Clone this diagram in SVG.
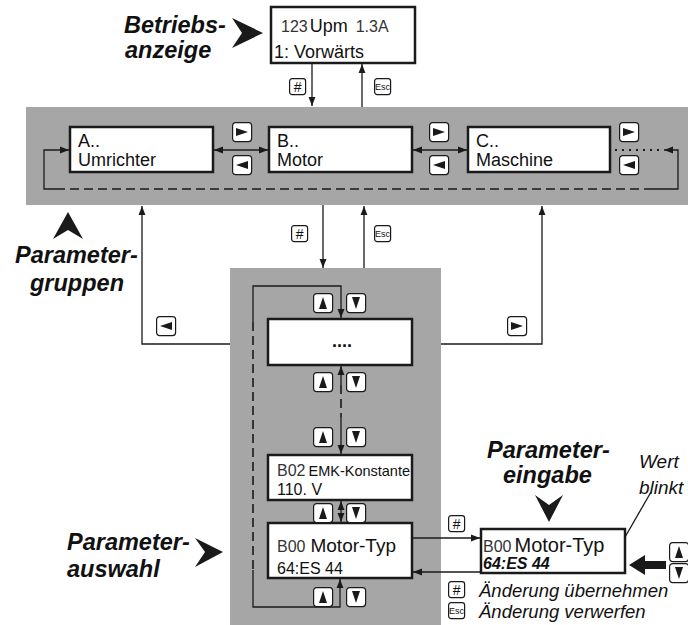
<svg xmlns="http://www.w3.org/2000/svg" width="688" height="625" viewBox="0 0 688 625">
<style>
.bg{fill:#a6a6a6}
.box{fill:#fff;stroke:#1a1a1a;stroke-width:2.5}
.key{fill:#fff;stroke:#1a1a1a;stroke-width:1.2}
.ln{fill:none;stroke:#1a1a1a;stroke-width:1.3}
.dash{fill:none;stroke:#1a1a1a;stroke-width:1.6;stroke-dasharray:9,5}
.dot{fill:none;stroke:#1a1a1a;stroke-width:1.8;stroke-dasharray:2,5}
.tri{fill:#1a1a1a}
.t{font-family:"Liberation Sans",Arial,sans-serif;fill:#111}
.bt{font-size:18px}
.lt{font-size:16px;fill:#333}
.big{font-family:"Liberation Sans",Arial,sans-serif;font-size:23.5px;font-weight:bold;font-style:italic;fill:#111}
.it{font-family:"Liberation Sans",Arial,sans-serif;font-style:italic;fill:#111}
.kt{font-family:"Liberation Sans",Arial,sans-serif;fill:#111;text-anchor:middle}
</style>
<defs>
<marker id="ah" viewBox="0 0 10 10" refX="10" refY="5" markerWidth="9" markerHeight="9" markerUnits="userSpaceOnUse" orient="auto-start-reverse"><path d="M0,1.2 L10,5 L0,8.8 z" fill="#1a1a1a"/></marker>
<g id="kR"><rect x="0.6" y="0.6" width="19" height="19" rx="3" class="key"/><polygon class="tri" points="4,6 16,10 4,14"/></g>
<g id="kL"><rect x="0.6" y="0.6" width="19" height="19" rx="3" class="key"/><polygon class="tri" points="16,6 4,10 16,14"/></g>
<g id="kU"><rect x="0.6" y="0.6" width="19" height="19" rx="3" class="key"/><polygon class="tri" points="10,4 14,16 6,16"/></g>
<g id="kD"><rect x="0.6" y="0.6" width="19" height="19" rx="3" class="key"/><polygon class="tri" points="6,4 14,4 10,16"/></g>
<g id="kH"><rect x="0.6" y="0.6" width="16" height="16" rx="2.5" class="key"/><text x="8.6" y="13.5" class="kt" font-size="14">#</text></g>
<g id="kE"><rect x="0.6" y="0.6" width="16" height="16" rx="2.5" class="key"/><text x="8.6" y="12" class="kt" font-size="9">Esc</text></g>
</defs>

<!-- backgrounds -->
<rect id="band-groups" class="bg" x="26" y="107" width="662" height="98"/>
<rect id="band-select" class="bg" x="230" y="268" width="211" height="357"/>

<!-- connectors -->
<g id="connectors">
  <line class="ln" x1="312" y1="63" x2="312" y2="106" marker-end="url(#ah)"/>
  <line class="ln" x1="362" y1="107" x2="362" y2="64" marker-end="url(#ah)"/>
  <line class="ln" x1="214" y1="150" x2="268" y2="150" marker-start="url(#ah)" marker-end="url(#ah)"/>
  <line class="ln" x1="413" y1="150" x2="467" y2="150" marker-start="url(#ah)" marker-end="url(#ah)"/>
  <line class="dot" x1="615" y1="150" x2="661" y2="150"/>
  <path class="ln" d="M653,189 L678,189 L678,150 L664,150" marker-end="url(#ah)"/>
  <line class="dash" x1="653" y1="189" x2="55" y2="189"/>
  <path class="ln" d="M56,189 L44,189 L44,150 L69,150" marker-end="url(#ah)"/>
  <line class="ln" x1="323" y1="205" x2="323" y2="268" marker-end="url(#ah)"/>
  <line class="ln" x1="364" y1="268" x2="364" y2="206" marker-end="url(#ah)"/>
  <path class="ln" d="M230,344 L142,344 L142,206" marker-end="url(#ah)"/>
  <path class="ln" d="M441,344 L542,344 L542,206" marker-end="url(#ah)"/>
  <path class="ln" d="M253,322 L253,286 L341,286 L341,318" marker-end="url(#ah)"/>
  <line class="dash" x1="253" y1="322" x2="253" y2="570"/>
  <path class="ln" d="M253,570 L253,607 L340,607 L340,579" marker-end="url(#ah)"/>
  <line class="ln" x1="341" y1="385" x2="341" y2="366" marker-end="url(#ah)"/>
  <line class="dash" x1="341" y1="385" x2="341" y2="417"/>
  <line class="ln" x1="341" y1="417" x2="341" y2="454" marker-end="url(#ah)"/>
  <line class="ln" x1="341" y1="501" x2="341" y2="522" marker-start="url(#ah)" marker-end="url(#ah)"/>
  <line class="ln" x1="413" y1="538" x2="480" y2="538" marker-end="url(#ah)"/>
  <line class="ln" x1="481" y1="572" x2="413" y2="572" marker-end="url(#ah)"/>
  <line class="ln" x1="651" y1="492" x2="617" y2="551" marker-end="url(#ah)"/>
  <polygon class="tri" points="629,565 645,555 645,561 666,561 666,569 645,569 645,575"/>
</g>

<!-- nodes -->
<g id="node-display">
  <rect class="box" x="271" y="7" width="144" height="56"/>
  <text class="t" x="281" y="32"><tspan class="lt">123</tspan><tspan class="bt" dx="2">Upm</tspan><tspan class="lt" dx="8">1.3A</tspan></text>
  <text class="t bt" x="274" y="58">1: Vorwärts</text>
</g>
<g id="node-A">
  <rect class="box" x="70" y="127" width="143" height="45"/>
  <text class="t bt" x="78" y="147">A..</text>
  <text class="t bt" x="78" y="166">Umrichter</text>
</g>
<g id="node-B">
  <rect class="box" x="269" y="127" width="143" height="45"/>
  <text class="t bt" x="277" y="147">B..</text>
  <text class="t bt" x="277" y="166">Motor</text>
</g>
<g id="node-C">
  <rect class="box" x="468" y="127" width="142" height="45"/>
  <text class="t bt" x="476" y="147">C..</text>
  <text class="t bt" x="476" y="166">Maschine</text>
</g>
<g id="node-dots">
  <rect class="box" x="268" y="319" width="144" height="46"/>
  <text class="t" x="342" y="347" font-size="18" font-weight="bold" text-anchor="middle">....</text>
</g>
<g id="node-B02">
  <rect class="box" x="268" y="455" width="144" height="45"/>
  <text class="t" x="277" y="476"><tspan font-size="16" fill="#333">B02</tspan><tspan font-size="14.5" dx="3">EMK-Konstante</tspan></text>
  <text class="t" x="277" y="495" font-size="16" fill="#333">110<tspan fill="#111">.</tspan> V</text>
</g>
<g id="node-B00">
  <rect class="box" x="268" y="523" width="144" height="55"/>
  <text class="t" x="277" y="552"><tspan font-size="16" fill="#333">B00</tspan><tspan font-size="19" dx="5">Motor-Typ</tspan></text>
  <text class="t" x="277" y="574" font-size="16" fill="#333">64:ES 44</text>
</g>
<g id="node-edit">
  <rect class="box" x="481" y="529" width="144" height="44"/>
  <text class="t" x="483" y="552"><tspan font-size="16" fill="#333">B00</tspan><tspan font-size="20" dx="3">Motor-Typ</tspan></text>
  <text class="t" x="483" y="569" font-size="16" font-weight="bold" font-style="italic">64:ES 44</text>
</g>

<!-- keys -->
<g id="keys">
  <use href="#kH" x="289" y="78"/>
  <use href="#kE" x="374" y="78"/>
  <use href="#kR" x="232" y="122"/>
  <use href="#kL" x="232" y="155"/>
  <use href="#kR" x="429" y="122"/>
  <use href="#kL" x="429" y="155"/>
  <use href="#kR" x="619" y="122"/>
  <use href="#kL" x="619" y="155"/>
  <use href="#kH" x="291" y="225"/>
  <use href="#kE" x="374" y="225"/>
  <use href="#kL" x="156" y="316"/>
  <use href="#kR" x="507" y="316"/>
  <use href="#kU" x="313" y="293"/>
  <use href="#kD" x="346" y="293"/>
  <use href="#kU" x="313" y="372"/>
  <use href="#kD" x="346" y="372"/>
  <use href="#kU" x="313" y="427"/>
  <use href="#kD" x="346" y="427"/>
  <use href="#kU" x="313" y="503"/>
  <use href="#kD" x="346" y="503"/>
  <use href="#kU" x="313" y="587"/>
  <use href="#kD" x="346" y="587"/>
  <use href="#kH" x="448" y="515"/>
  <use href="#kU" x="669" y="542"/>
  <use href="#kD" x="669" y="563"/>
  <use href="#kH" x="448" y="581"/>
  <use href="#kE" x="448" y="602"/>
</g>

<!-- labels -->
<g id="label-betrieb">
  <text class="big" x="124" y="33">Betriebs-</text>
  <text class="big" x="125" y="58">anzeige</text>
  <polygon class="tri" points="232,18 263,33 232,48 242,33"/>
</g>
<g id="label-gruppen">
  <text class="big" x="15" y="263">Parameter-</text>
  <text class="big" x="30" y="291">gruppen</text>
  <polygon class="tri" points="68,212 83,239 68,230 53,239"/>
</g>
<g id="label-auswahl">
  <text class="big" x="67" y="550">Parameter-</text>
  <text class="big" x="67" y="577">auswahl</text>
  <polygon class="tri" points="195,538 223,552 195,567 205,552"/>
</g>
<g id="label-eingabe">
  <text class="big" x="487" y="458">Parameter-</text>
  <text class="big" x="503" y="483">eingabe</text>
  <polygon class="tri" points="535,495 549,522 563,495 549,505"/>
</g>
<g id="label-wert">
  <text class="it" x="639" y="468" font-size="19">Wert</text>
  <text class="it" x="639" y="494" font-size="19">blinkt</text>
</g>
<g id="legend">
  <text class="it" x="479" y="597" font-size="18.5">Änderung übernehmen</text>
  <text class="it" x="479" y="618" font-size="18.5">Änderung verwerfen</text>
</g>
</svg>
